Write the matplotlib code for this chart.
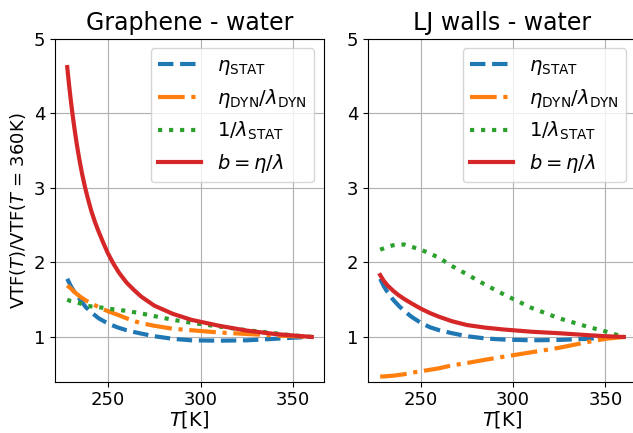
import matplotlib
matplotlib.use("Agg")
import matplotlib.pyplot as plt

T = [228, 230, 232, 235, 238, 241, 245, 250, 255, 260, 267, 275, 285, 295, 310, 325, 340, 350, 360]

# graphene - water
gr_eta = [1.78, 1.68, 1.60, 1.50, 1.40, 1.33, 1.25, 1.18, 1.13, 1.09, 1.05, 1.01, 0.975, 0.955, 0.95, 0.955, 0.975, 0.99, 1.0]
gr_dyn = [1.69, 1.65, 1.60, 1.54, 1.49, 1.45, 1.40, 1.345, 1.30, 1.25, 1.19, 1.15, 1.11, 1.09, 1.06, 1.04, 1.02, 1.01, 1.0]
gr_lam = [1.50, 1.48, 1.47, 1.45, 1.42, 1.41, 1.40, 1.38, 1.365, 1.35, 1.32, 1.28, 1.23, 1.19, 1.14, 1.09, 1.05, 1.02, 1.0]
# red curve is steep at low T, so it gets its own finer T list
T_b = [228, 229, 230, 231, 232, 233, 234, 235, 236, 237.5, 239, 241, 243, 245, 247.5, 250,
       253, 256, 260, 264, 268, 275, 285, 295, 310, 325, 340, 350, 360]
gr_b = [4.62, 4.38, 4.16, 3.96, 3.78, 3.61, 3.46, 3.32, 3.19, 3.02, 2.87, 2.69, 2.54, 2.41, 2.26, 2.12,
        1.98, 1.86, 1.73, 1.63, 1.54, 1.42, 1.31, 1.23, 1.15, 1.085, 1.04, 1.02, 1.0]

# LJ walls - water
lj_eta = [1.78, 1.68, 1.60, 1.50, 1.42, 1.35, 1.27, 1.19, 1.13, 1.09, 1.05, 1.01, 0.98, 0.965, 0.955, 0.96, 0.975, 0.99, 1.0]
lj_dyn = [0.47, 0.47, 0.475, 0.48, 0.49, 0.50, 0.52, 0.54, 0.56, 0.58, 0.62, 0.65, 0.695, 0.735, 0.795, 0.855, 0.93, 0.975, 1.0]
lj_lam = [2.17, 2.19, 2.21, 2.23, 2.24, 2.24, 2.21, 2.17, 2.12, 2.06, 1.95, 1.84, 1.70, 1.57, 1.39, 1.25, 1.14, 1.075, 1.0]
lj_b = [1.83, 1.75, 1.69, 1.62, 1.56, 1.51, 1.45, 1.38, 1.32, 1.27, 1.21, 1.16, 1.125, 1.10, 1.07, 1.05, 1.025, 1.01, 1.0]

labels = [r"$\eta_{\rm STAT}$", r"$\eta_{\rm DYN}/\lambda_{\rm DYN}$",
          r"$1/\lambda_{\rm STAT}$", r"$b = \eta/\lambda$"]
titles = ["Graphene - water", "LJ walls - water"]

fig = plt.figure(figsize=(6.33, 4.33), dpi=100)
ax1 = fig.add_axes([55/633, 0.1185, 269/633, 0.792])
ax2 = fig.add_axes([368/633, 0.1185, 268/633, 0.792])

for ax, series, tb, title in [(ax1, [gr_eta, gr_dyn, gr_lam, gr_b], T_b, titles[0]),
                              (ax2, [lj_eta, lj_dyn, lj_lam, lj_b], T, titles[1])]:
    ax.plot(T, series[0], "--", color="#1f77b4", lw=3, label=labels[0])
    ax.plot(T, series[1], "-.", color="#ff7f0e", lw=3, label=labels[1])
    ax.plot(T, series[2], ":", color="#2ca02c", lw=3, label=labels[2])
    ax.plot(tb, series[3], "-", color="#d62728", lw=3, label=labels[3])
    ax.set_ylim(0.4, 5)
    ax.set_xticks([250, 300, 350])
    ax.set_yticks([1, 2, 3, 4, 5])
    ax.tick_params(labelsize=13)
    ax.grid(True)
    ax.set_title(title, fontsize=17)
    ax.set_xlabel(r"$T$[K]", fontsize=14, labelpad=0)
    ax.legend(loc="upper right", fontsize=14, handlelength=2.2)

ax1.set_ylabel(r"VTF($T$)/VTF($T$ = 360K)", fontsize=13)

fig.savefig("out.png", dpi=100)
